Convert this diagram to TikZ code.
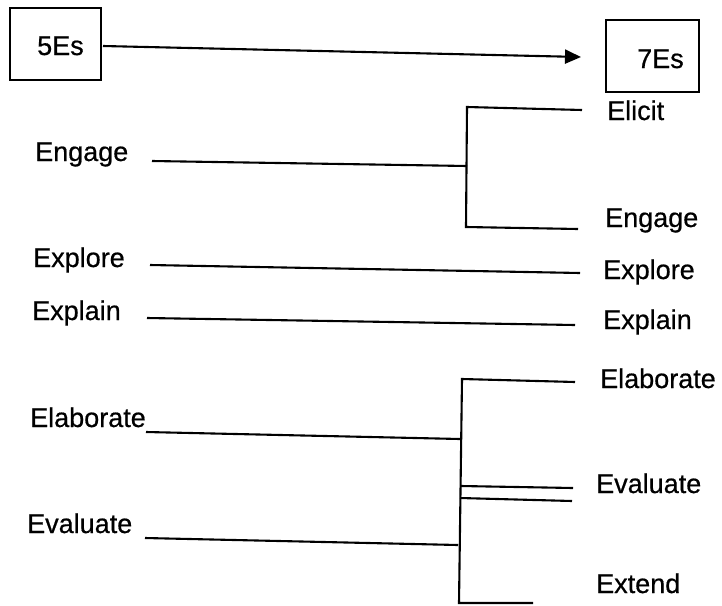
\documentclass[tikz,border=0pt]{standalone}
\usepackage{fontspec}
\setmainfont{Liberation Sans}
\newfontfamily\lblfont{Liberation Sans}[FakeBold=0.6]
\usetikzlibrary{arrows.meta}
\begin{document}
\begin{tikzpicture}[x=1pt,y=-1pt,
  lbl/.style={inner sep=0pt,anchor=base west,font=\lblfont\fontsize{27}{32}\selectfont},
  ln/.style={line width=2.1pt},
  boxs/.style={draw,line width=2.1pt,inner sep=0pt}]
\useasboundingbox (0,0) rectangle (722,605);
% boxes
\node[boxs,minimum width=91pt,minimum height=72pt] (b5) at (55.5,44) {};
\node[boxs,minimum width=93pt,minimum height=72pt] (b7) at (652.5,56) {};
\node[lbl] (t5) at (37,55) {5Es};
\node[lbl] (t7) at (637,68) {7Es};
\coordinate (as) at (103,46);
\coordinate (ae) at (581,57);
\draw[ln,-{Triangle[length=16pt,width=14pt]}] (as) -- (ae);
% left labels
\node[lbl] (l1) at (35,161) {Engage};
\node[lbl] (l2) at (33,267) {Explore};
\node[lbl] (l3) at (32,320) {Explain};
\node[lbl] (l4) at (30,427) {Elaborate};
\node[lbl] (l5) at (27,533) {Evaluate};
% right labels
\node[lbl] (r1) at (607,120) {Elicit};
\node[lbl] (r2) at (605,227) {Engage};
\node[lbl] (r3) at (603,279) {Explore};
\node[lbl] (r4) at (603,329) {Explain};
\node[lbl] (r5) at (600,388) {Elaborate};
\node[lbl] (r6) at (596,493) {Evaluate};
\node[lbl] (r7) at (596,593) {Extend};
% bracket 1
\coordinate (e1s) at (152,161);
\coordinate (e1m) at (467,166);
\coordinate (b1t) at (467,107);
\coordinate (b1b) at (466,227);
\coordinate (b1te) at (582,110);
\coordinate (b1be) at (578,229);
\draw[ln] (e1s) -- (e1m);
\draw[ln] (b1te) -- (b1t) -- (b1b) -- (b1be);
% straight lines
\coordinate (x1s) at (150,265);
\coordinate (x1e) at (580,273);
\draw[ln] (x1s) -- (x1e);
\coordinate (x2s) at (147,318);
\coordinate (x2e) at (575,325);
\draw[ln] (x2s) -- (x2e);
% bracket 2
\coordinate (el1s) at (146,432);
\coordinate (el1m) at (460,439);
\coordinate (ev1s) at (145,538);
\coordinate (ev1m) at (458,545);
\coordinate (b2t) at (462,379);
\coordinate (b2b) at (459,603);
\coordinate (b2te) at (575,382);
\coordinate (b2be) at (533,603);
\coordinate (d1s) at (461,486);
\coordinate (d1e) at (573,488);
\coordinate (d2s) at (460,498);
\coordinate (d2e) at (572,501);
\draw[ln] (el1s) -- (el1m);
\draw[ln] (ev1s) -- (ev1m);
\draw[ln] (b2te) -- (b2t) -- (b2b) -- (b2be);
\draw[ln] (d1s) -- (d1e);
\draw[ln] (d2s) -- (d2e);
\end{tikzpicture}
\end{document}
